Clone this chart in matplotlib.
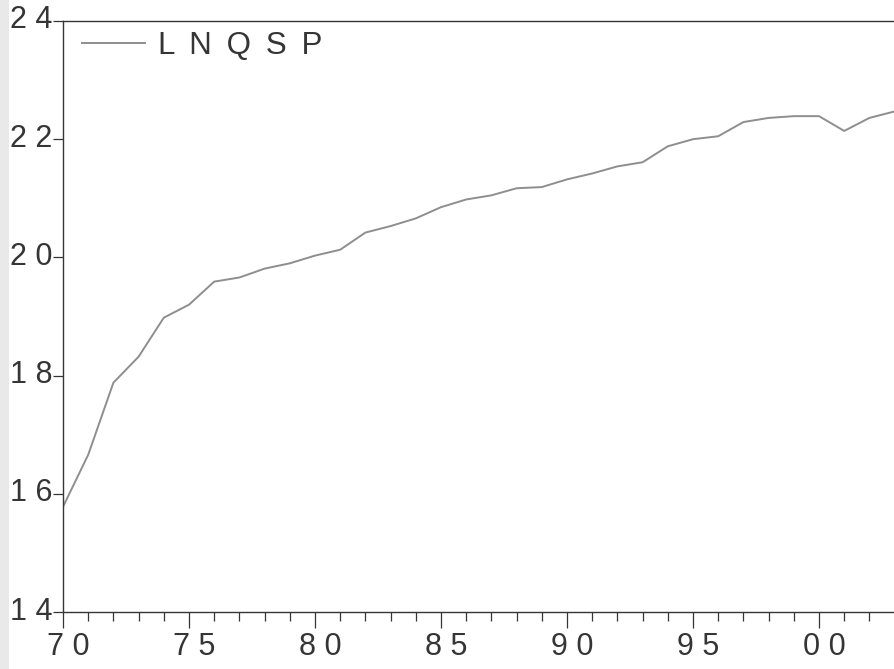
import numpy as np
import matplotlib
matplotlib.use('Agg')
import matplotlib.pyplot as plt
import matplotlib.ticker as mticker
import matplotlib.transforms as mtrans
from matplotlib.patches import Rectangle

# Annual series, 1970-2003
years = list(range(1970, 2004))
lnqsp = [15.78, 16.66, 17.88, 18.32, 18.98, 19.20, 19.59, 19.66, 19.81, 19.90,
         20.03, 20.13, 20.42, 20.53, 20.66, 20.85, 20.98, 21.05, 21.17, 21.19,
         21.32, 21.42, 21.54, 21.61, 21.88, 22.00, 22.05, 22.29, 22.36, 22.39,
         22.39, 22.14, 22.36, 22.47]
y_ticks = [14, 16, 18, 20, 22, 24]
x_ticks = [1970, 1975, 1980, 1985, 1990, 1995, 2000]

INK = '#353535'
LINE = '#8e8e8e'

plt.rcParams['font.family'] = ['Liberation Sans', 'DejaVu Sans']

fig = plt.figure(figsize=(8.94, 6.69), dpi=100)
fig.patch.set_facecolor('white')
fig.patches.append(Rectangle((0, 0), 9 / 894, 1, transform=fig.transFigure,
                             facecolor='#e9e9e9', edgecolor='none', zorder=0))

ax = fig.add_axes([63 / 894, 57 / 669, 840 / 894, 591 / 669])
ax.plot(years, lnqsp, color=LINE, linewidth=1.4, label=' \u2009'.join('LNQSP'))

ax.set_xlim(1970, 1970 + 840 / 25.2)
ax.set_ylim(14, 24)

ax.set_yticks(y_ticks)
ax.yaxis.set_major_formatter(mticker.FuncFormatter(lambda v, p: ' '.join(f'{int(v)}')))
ax.set_xticks(x_ticks)
ax.xaxis.set_minor_locator(mticker.MultipleLocator(1))
ax.xaxis.set_major_formatter(mticker.FuncFormatter(lambda v, p: ' '.join(f'{int(v) % 100:02d}')))

ax.tick_params(axis='x', which='major', direction='out', length=11.5, width=0.9,
               color=INK, labelsize=22, labelcolor=INK, pad=3)
ax.tick_params(axis='x', which='minor', direction='out', length=6.5, width=0.9, color=INK)
ax.tick_params(axis='y', which='major', direction='out', length=7.5, width=0.9,
               color=INK, labelsize=22, labelcolor=INK, pad=0)

# small offsets on the tick labels
y_shift = mtrans.ScaledTranslation(0, 4 / 100, fig.dpi_scale_trans)
for lab in ax.get_yticklabels():
    lab.set_transform(lab.get_transform() + y_shift)
x_shift = mtrans.ScaledTranslation(5 / 100, 0, fig.dpi_scale_trans)
for lab in ax.get_xticklabels():
    lab.set_transform(lab.get_transform() + x_shift)

for side in ('left', 'bottom', 'top'):
    ax.spines[side].set_color(INK)
    ax.spines[side].set_linewidth(1.0)
ax.spines['right'].set_visible(False)

leg = ax.legend(loc='center left', bbox_to_anchor=(19 / 840, 1 - 25 / 591),
                frameon=False, fontsize=22.5, handlelength=2.0,
                handletextpad=0.42, borderaxespad=0.0, borderpad=0.0)
for t in leg.get_texts():
    t.set_color(INK)

fig.savefig('out.png', dpi=100)
